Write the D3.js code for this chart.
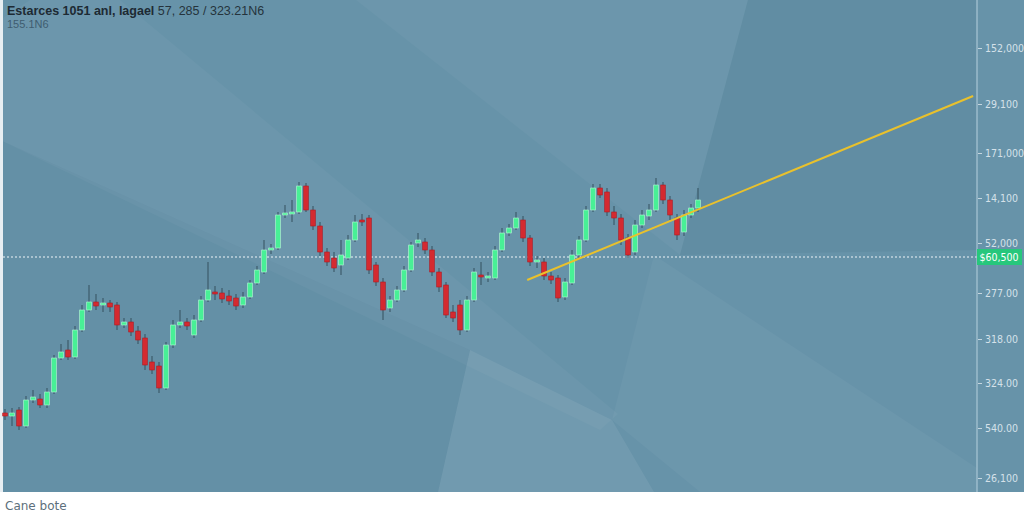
<!DOCTYPE html>
<html><head><meta charset="utf-8">
<script src="https://cdn.jsdelivr.net/npm/d3@7"></script>
<style>html,body{margin:0;padding:0;background:#fff;}svg{display:block;}</style>
</head><body>
<svg id="c" width="1024" height="512"></svg>
<script>
// ---- data (price units) ----
const opens  = [87,84,90,74,100,101,95,108,142,150,143,170,190,198,195,197,195,175,178,169,162,138,134,112,155,175,178,165,180,200,208,207,204,202,195,203,217,228,250,252,285,286,288,314,290,274,248,242,235,242,260,280,282,235,218,192,200,210,230,257,258,250,228,215,188,195,170,200,225,222,222,250,267,272,280,262,238,238,224,222,203,217,245,260,290,312,308,288,282,262,248,275,284,290,315,300,282,268,285,292];
const highs  = [91,92,93,104,110,106,112,145,156,160,174,195,215,206,202,200,198,182,182,174,166,144,138,158,180,190,182,185,204,238,214,212,210,206,208,220,234,260,256,288,295,300,318,317,294,278,252,248,260,265,285,286,285,238,222,204,214,234,258,267,262,254,232,218,195,200,204,232,238,228,254,272,276,288,284,265,244,242,228,225,222,250,264,294,316,316,312,294,286,266,280,290,296,322,318,304,286,290,296,312];
const lows   = [80,74,70,72,97,92,92,106,140,140,141,168,188,190,188,188,170,172,164,156,130,126,107,110,152,172,170,162,178,198,200,197,195,190,192,201,215,226,246,250,282,278,286,288,270,244,234,228,225,240,258,274,226,214,180,188,198,208,228,253,246,224,208,182,178,165,168,198,215,218,220,248,264,270,258,234,232,220,216,198,200,215,242,258,288,302,284,275,255,242,245,272,280,288,296,280,260,264,282,288];
const closes = [84,87,74,100,103,95,108,142,148,143,170,190,198,194,197,193,175,178,168,160,135,130,112,155,175,178,174,180,200,210,206,201,199,194,203,217,230,250,252,285,287,288,314,290,274,248,238,232,245,260,278,278,230,218,190,200,210,230,255,260,250,228,213,185,182,170,200,228,223,224,250,267,272,282,262,238,240,224,220,202,218,245,260,290,312,305,288,282,260,245,275,285,290,315,300,285,265,285,292,300];
const tickValues = [452,396,347,302,257,207,161,117,72,22];
const tickLabels = ["152,000","29,100","171,000","14,100","52,000","277.00","318.00","324.00","540.00","26,100"];
const lastPrice = 243, lastLabel = "$60,500";
const trend = [{i:74.6, p:220},{i:138.3, p:404}];
const titleMain = "Estarces 1051 anl, lagael", titleRest = " 57, 285 / 323.21N6";
const subTitle = "155.1N6";
const footer = "Cane bote";

// ---- layout ----
const svg = d3.select("#c");
const W = 1024, plotR = 977, plotB = 492;
const x = d3.scaleLinear().domain([0, opens.length-1]).range([5, 698]);
const y = d3.scaleLinear().domain([8, 500]).range([plotB, 0]);

// background
svg.append("rect").attr("x",0).attr("y",0).attr("width",W).attr("height",plotB).attr("fill","#6793a9");
const polys = [
  {pts:[[0,20],[0,140],[600,430],[618,414],[120,0],[30,0]], c:"#ffffff", o:0.035},
  {pts:[[356,0],[748,0],[680,255]], c:"#ffffff", o:0.035},
  {pts:[[748,0],[977,0],[977,250],[680,255]], c:"#20405a", o:0.07},
  {pts:[[438,492],[470,350],[612,420],[654,492]], c:"#ffffff", o:0.07},
  {pts:[[612,420],[654,255],[977,468],[977,492],[700,492]], c:"#ffffff", o:0.04},
  {pts:[[0,140],[0,492],[438,492],[470,350]], c:"#20405a", o:0.03}
];
svg.append("g").selectAll("polygon").data(polys).join("polygon")
  .attr("points", d=>d.pts.map(p=>p.join(",")).join(" "))
  .attr("fill", d=>d.c).attr("opacity", d=>d.o);
svg.append("rect").attr("x",0).attr("y",0).attr("width",3).attr("height",plotB).attr("fill","#e8eef2");

// dashed last-price line
svg.append("line").attr("x1",3).attr("x2",plotR).attr("y1",y(lastPrice)).attr("y2",y(lastPrice))
  .attr("stroke","#eef4f8").attr("stroke-width",1.2).attr("stroke-dasharray","2,2");

// candles
const data = opens.map((o,i)=>({i,o,h:highs[i],l:lows[i],c:closes[i]}));
const g = svg.append("g");
const bw = 4.6;
g.selectAll("line.w").data(data).join("line").attr("class","w")
  .attr("x1",d=>x(d.i)).attr("x2",d=>x(d.i)).attr("y1",d=>y(d.h)).attr("y2",d=>y(d.l))
  .attr("stroke","#34505f").attr("stroke-width",1);
g.selectAll("rect.b").data(data).join("rect").attr("class","b")
  .attr("x",d=>x(d.i)-bw/2).attr("width",bw)
  .attr("y",d=>y(Math.max(d.o,d.c)))
  .attr("height",d=>Math.max(1.5, Math.abs(y(d.o)-y(d.c))))
  .attr("fill",d=>d.c>=d.o?"#48f096":"#d42a30")
  .attr("stroke",d=>d.c>=d.o?"#b8ffd8":"#b01820").attr("stroke-width",0.6);

// trend line
svg.append("line").attr("x1",x(trend[0].i)).attr("y1",y(trend[0].p))
  .attr("x2",x(trend[1].i)).attr("y2",y(trend[1].p))
  .attr("stroke","#e9c12c").attr("stroke-width",2);

// right axis
svg.append("line").attr("x1",plotR).attr("x2",plotR).attr("y1",0).attr("y2",plotB)
  .attr("stroke","#a9c6d6").attr("stroke-width",1.2);
const axis = d3.axisRight(y).tickValues(tickValues).tickFormat((d,i)=>tickLabels[i]).tickSize(4).tickPadding(3);
const ag = svg.append("g").attr("transform",`translate(${plotR+1},0)`).call(axis);
ag.select(".domain").remove();
ag.selectAll(".tick line").attr("stroke","#c5d6e0");
ag.selectAll(".tick text").attr("fill","#d5e1e9").attr("font-family","DejaVu Sans Condensed, Liberation Sans Narrow, sans-serif").attr("font-size",10.5);

// price tag
svg.append("rect").attr("x",plotR).attr("y",y(lastPrice)-8).attr("width",45).attr("height",16).attr("fill","#27c77c");
svg.append("text").attr("x",plotR+22).attr("y",y(lastPrice)+4).attr("text-anchor","middle")
  .attr("fill","#ffffff").attr("font-family","DejaVu Sans Condensed, sans-serif").attr("font-size",10.5).text(lastLabel);

// titles
const t = svg.append("text").attr("x",7).attr("y",15).attr("font-family","Liberation Sans, Arial, sans-serif").attr("font-size",12.5);
t.append("tspan").attr("font-weight","bold").attr("fill","#1d2a33").text(titleMain);
t.append("tspan").attr("fill","#25333c").text(titleRest);
svg.append("text").attr("x",7).attr("y",28).attr("font-family","Liberation Sans, Arial, sans-serif").attr("font-size",11)
  .attr("fill","#3f5d70").text(subTitle);

// footer
svg.append("text").attr("x",5).attr("y",510).attr("font-family","DejaVu Sans, sans-serif").attr("font-size",12)
  .attr("fill","#5d6f7c").text(footer);
</script>
</body></html>
